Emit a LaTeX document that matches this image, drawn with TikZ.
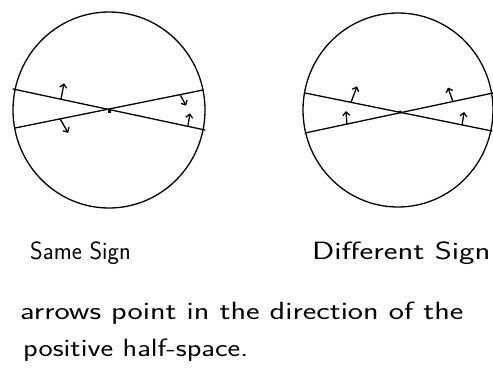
\documentclass[tikz,border=0pt]{standalone}
\usetikzlibrary{arrows.meta,calc}
\tikzset{
  pen/.style={line width=1.3pt, line cap=round, line join=round},
  normal/.style={pen, -{Straight Barb[length=3.5pt,width=7pt]}},
  hand/.style={font=\sffamily\fontsize{25}{25}\selectfont, inner sep=0pt, anchor=base west},
}
\begin{document}
\begin{tikzpicture}[x=1pt,y=-1pt]
\useasboundingbox (0,0) rectangle (493,369);
% left circle
\draw[pen] (109,110) ellipse [x radius=96, y radius=98];
\coordinate (L1a) at (13,89);  \coordinate (L1b) at (205,130);
\coordinate (L2a) at (15,128); \coordinate (L2b) at (203,90);
\draw[pen] (L1a) -- (L1b);
\draw[pen] (L2a) -- (L2b);
\node[fill, inner sep=0pt, minimum size=3pt] (lc) at (109,111) {};
\draw[normal] ($(L1a)!0.25!(L1b)$) -- ++(3,-16);
\draw[normal] ($(L2a)!0.24!(L2b)$) -- ++(8,14);
\draw[normal] ($(L2a)!0.878!(L2b)$) -- ++(6,11);
\draw[normal] ($(L1a)!0.911!(L1b)$) -- ++(2,-13);
% right circle
\draw[pen] (398,110) ellipse [x radius=95, y radius=97];
\coordinate (R1a) at (305,93);  \coordinate (R1b) at (492,131);
\coordinate (R2a) at (305,133); \coordinate (R2b) at (493,93);
\draw[pen] (R1a) -- (R1b);
\draw[pen] (R2a) -- (R2b);
\node[circle, fill, inner sep=0pt, minimum size=3.5pt] (rc) at (400,112) {};
\draw[normal] ($(R1a)!0.246!(R1b)$) -- ++(6,-16);
\draw[normal] ($(R2a)!0.223!(R2b)$) -- ++(-1,-13);
\draw[normal] ($(R2a)!0.787!(R2b)$) -- ++(-5,-14);
\draw[normal] ($(R1a)!0.84!(R1b)$) -- ++(2,-13);
% labels
\node[hand] (same) at (30,259) {\scalebox{0.97}[1]{Same Sign}};
\node[hand] (diff) at (312,259) {\scalebox{1.31}[1]{Different Sign}};
\node[hand] (t1) at (20,319) {\scalebox{1.29}[1]{arrows point in the direction of the}};
\node[hand] (t2) at (23,356) {\scalebox{1.21}[1]{positive half-space.}};
\end{tikzpicture}
\end{document}
